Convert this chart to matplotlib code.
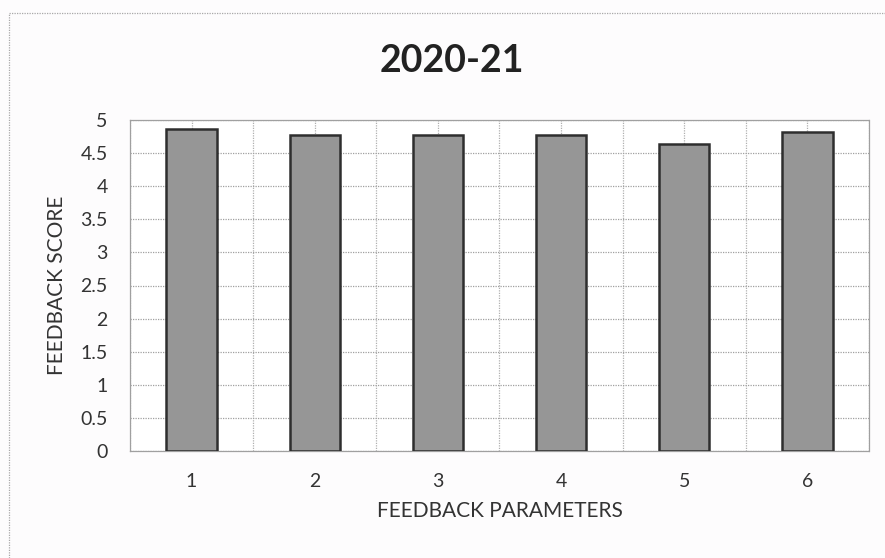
import matplotlib
matplotlib.use("Agg")
import matplotlib.pyplot as plt
from matplotlib.lines import Line2D
import numpy as np

categories = ["1", "2", "3", "4", "5", "6"]
scores = [4.86, 4.77, 4.77, 4.77, 4.64, 4.82]
title = "2020-21"
xlabel = "FEEDBACK PARAMETERS"
ylabel = "FEEDBACK SCORE"

plt.rcParams['font.family'] = ['Lato', 'DejaVu Sans']

W, H = 885, 558
fig = plt.figure(figsize=(W / 100, H / 100), dpi=100)
fig.patch.set_facecolor("#fdfcfd")
L, T, R, B = 130, 120, 869, 451
ax = fig.add_axes([L / W, 1 - B / H, (R - L) / W, (B - T) / H])
ax.set_facecolor("white")

x = np.arange(len(categories))
ax.bar(x, scores, width=0.41, color="#969696", edgecolor="#2e2e2e", linewidth=1.8, zorder=3)

ax.set_xlim(-0.5, len(categories) - 0.5)
ax.set_ylim(0, 5)
ax.set_yticks(np.arange(0, 5.01, 0.5))
ax.set_yticklabels(["0", "0.5", "1", "1.5", "2", "2.5", "3", "3.5", "4", "4.5", "5"])
ax.set_xticks(x)
ax.set_xticklabels(categories)
ax.set_xticks(np.arange(-0.5, len(categories), 1.0), minor=True)
ax.tick_params(axis="y", length=0, labelsize=14, colors="#333333", pad=16)
ax.tick_params(axis="x", which="both", length=0, labelsize=14, colors="#333333", pad=16)

ax.grid(True, axis="y", which="major", color="#a0a0a0", linestyle=(0, (1, 1)), linewidth=0.9, zorder=0)
ax.grid(True, axis="x", which="both", color="#b0b0b0", linestyle=(0, (1, 1)), linewidth=0.9, zorder=0)
for s in ax.spines.values():
    s.set_color("#a0a0a0")
    s.set_linestyle((0, (1, 1)))
    s.set_linewidth(0.9)

ax.set_xlabel(xlabel, fontsize=15, color="#333333", labelpad=8)
ax.set_ylabel(ylabel, fontsize=15, color="#333333", va="center")
ax.yaxis.set_label_coords((57 - L) / (R - L), 0.5)
fig.text(452 / W, 1 - 61 / H, title, ha="center", va="center",
         fontsize=27, fontweight="bold", color="#222222")

# outer chart-area border (top and left visible)
fig.add_artist(Line2D([9 / W, 1.0], [1 - 13 / H, 1 - 13 / H], transform=fig.transFigure,
                      color="#a8a8a8", linewidth=0.9, linestyle=(0, (1, 1))))
fig.add_artist(Line2D([9 / W, 9 / W], [0.0, 1 - 13 / H], transform=fig.transFigure,
                      color="#a8a8a8", linewidth=0.9, linestyle=(0, (1, 1))))

fig.savefig("out.png", dpi=100, facecolor=fig.get_facecolor())
